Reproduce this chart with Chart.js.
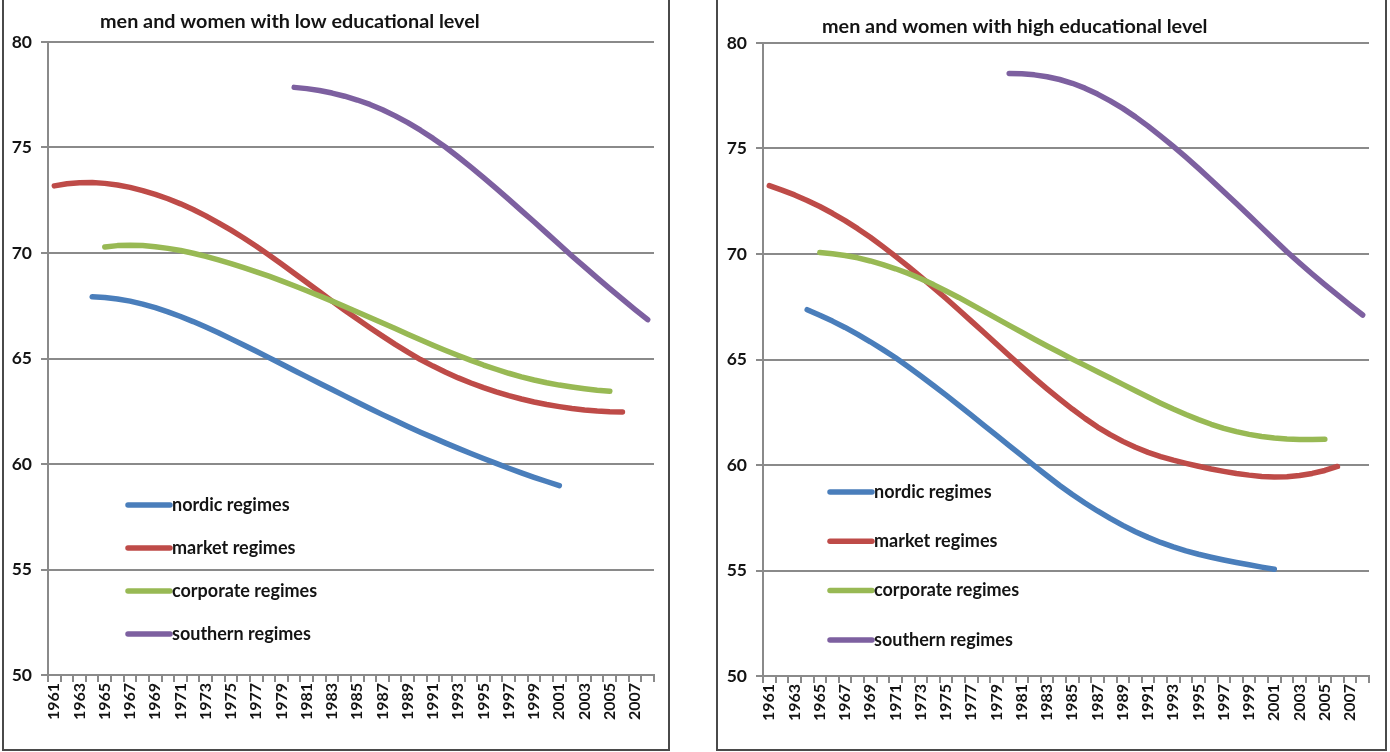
<!DOCTYPE html>
<html>
<head>
<meta charset="utf-8">
<script src="https://cdn.jsdelivr.net/npm/chart.js@4.4.1/dist/chart.umd.min.js"></script>
<style>
  html, body { margin: 0; padding: 0; background: #ffffff; width: 1390px; height: 752px; overflow: hidden; }
  .panel { position: absolute; border: 2px solid #4a4a4a; box-sizing: border-box; }
  #p1 { left: 2px; top: -3px; width: 668px; height: 754px; }
  #p2 { left: 716px; top: -3px; width: 671px; height: 754px; }
  canvas { position: absolute; top: 0; }
</style>
</head>
<body>
<div class="panel" id="p1"></div>
<div class="panel" id="p2"></div>
<canvas id="lowChart" width="664" height="750" style="left:4px"></canvas>
<canvas id="highChart" width="666" height="750" style="left:718px"></canvas>
<script>
// Years on the category axis
const years = [1961, 1962, 1963, 1964, 1965, 1966, 1967, 1968, 1969, 1970,
               1971, 1972, 1973, 1974, 1975, 1976, 1977, 1978, 1979, 1980,
               1981, 1982, 1983, 1984, 1985, 1986, 1987, 1988, 1989, 1990,
               1991, 1992, 1993, 1994, 1995, 1996, 1997, 1998, 1999, 2000,
               2001, 2002, 2003, 2004, 2005, 2006, 2007, 2008];
const yTicks = [50, 55, 60, 65, 70, 75, 80];
const seriesNames = ['nordic regimes', 'market regimes', 'corporate regimes', 'southern regimes'];
const seriesColors = ['#4a7ebb', '#be4b48', '#98b954', '#7d60a0'];

// Low educational level (first year of each trend, then yearly values)
const lowNordicFrom = 1964;
const lowNordic = [67.93, 67.89, 67.82, 67.72, 67.58, 67.41, 67.21, 66.99, 66.75, 66.49,
                   66.22, 65.93, 65.64, 65.34, 65.04, 64.74, 64.43, 64.13, 63.83, 63.53,
                   63.23, 62.93, 62.63, 62.34, 62.06, 61.78, 61.51, 61.25, 60.99, 60.74,
                   60.50, 60.26, 60.03, 59.80, 59.58, 59.37, 59.17, 58.97];
const lowMarketFrom = 1961;
const lowMarket = [73.18, 73.28, 73.33, 73.34, 73.30, 73.22, 73.11, 72.96, 72.78, 72.57,
                   72.33, 72.06, 71.76, 71.43, 71.08, 70.71, 70.32, 69.91, 69.48, 69.04,
                   68.60, 68.16, 67.72, 67.29, 66.87, 66.46, 66.06, 65.67, 65.30, 64.95,
                   64.64, 64.35, 64.08, 63.84, 63.62, 63.42, 63.24, 63.08, 62.94, 62.82,
                   62.72, 62.63, 62.56, 62.51, 62.48, 62.47];
const lowCorporateFrom = 1965;
const lowCorporate = [70.28, 70.35, 70.37, 70.35, 70.30, 70.22, 70.12, 69.99, 69.84, 69.67,
                      69.50, 69.31, 69.11, 68.90, 68.68, 68.45, 68.21, 67.97, 67.72, 67.46,
                      67.20, 66.94, 66.68, 66.42, 66.15, 65.89, 65.63, 65.38, 65.14, 64.91,
                      64.69, 64.49, 64.30, 64.13, 63.98, 63.85, 63.74, 63.65, 63.57, 63.50,
                      63.45];
const lowSouthernFrom = 1980;
const lowSouthern = [77.85, 77.79, 77.70, 77.58, 77.43, 77.25, 77.04, 76.79, 76.50, 76.18,
                     75.82, 75.43, 75.01, 74.55, 74.07, 73.57, 73.06, 72.54, 72.01, 71.48,
                     70.94, 70.40, 69.86, 69.34, 68.82, 68.31, 67.81, 67.32, 66.84];

// High educational level
const highNordicFrom = 1964;
const highNordic = [67.36, 67.10, 66.82, 66.52, 66.19, 65.84, 65.47, 65.08, 64.66, 64.22,
                    63.77, 63.31, 62.84, 62.36, 61.88, 61.40, 60.92, 60.44, 59.96, 59.49,
                    59.03, 58.60, 58.20, 57.82, 57.47, 57.14, 56.84, 56.57, 56.33, 56.12,
                    55.93, 55.77, 55.63, 55.50, 55.38, 55.27, 55.16, 55.06];
const highMarketFrom = 1961;
const highMarket = [73.24, 73.03, 72.80, 72.54, 72.25, 71.93, 71.58, 71.20, 70.79, 70.35,
                    69.89, 69.41, 68.92, 68.41, 67.89, 67.36, 66.82, 66.28, 65.73, 65.19,
                    64.65, 64.12, 63.61, 63.12, 62.65, 62.21, 61.80, 61.44, 61.12, 60.84,
                    60.60, 60.40, 60.23, 60.08, 59.94, 59.81, 59.70, 59.60, 59.52, 59.46,
                    59.43, 59.44, 59.50, 59.60, 59.74, 59.93];
const highCorporateFrom = 1965;
const highCorporate = [70.07, 70.01, 69.93, 69.82, 69.67, 69.50, 69.30, 69.08, 68.83, 68.55,
                       68.25, 67.94, 67.61, 67.28, 66.95, 66.62, 66.29, 65.96, 65.64, 65.33,
                       65.02, 64.72, 64.42, 64.12, 63.82, 63.52, 63.22, 62.93, 62.65, 62.39,
                       62.15, 61.93, 61.74, 61.58, 61.45, 61.35, 61.28, 61.23, 61.21, 61.21,
                       61.22];
const highSouthernFrom = 1980;
const highSouthern = [78.56, 78.54, 78.49, 78.40, 78.27, 78.09, 77.86, 77.58, 77.26, 76.90,
                      76.50, 76.06, 75.59, 75.10, 74.59, 74.06, 73.51, 72.95, 72.39, 71.82,
                      71.25, 70.68, 70.11, 69.57, 69.05, 68.55, 68.06, 67.58, 67.11];

// Place a trend that starts in a given year onto the full year axis
function alignToYears(from, values) {
  return years.map(y => {
    const i = y - from;
    return (i >= 0 && i < values.length) ? values[i] : null;
  });
}

const TEXT = '#141414';
const GRID = '#8a8a8a';
const FONT = 'Lato, "Open Sans", "DejaVu Sans", sans-serif';

// Legend stacked inside the plot area
const innerLegend = {
  id: 'innerLegend',
  afterDatasetsDraw(chart, args, o) {
    const ctx = chart.ctx;
    ctx.save();
    chart.data.datasets.forEach((ds, i) => {
      const y = o.top + i * o.gap;
      ctx.strokeStyle = ds.borderColor;
      ctx.lineWidth = 5.5;
      ctx.lineCap = 'round';
      ctx.beginPath();
      ctx.moveTo(o.x, y);
      ctx.lineTo(o.x + o.len, y);
      ctx.stroke();
      ctx.fillStyle = TEXT;
      ctx.font = o.font;
      ctx.textBaseline = 'middle';
      ctx.textAlign = 'left';
      ctx.fillText(ds.label, o.x + o.len + 2, y);
    });
    ctx.restore();
  }
};

// Panel heading drawn at a fixed spot above the plot
const panelHeading = {
  id: 'panelHeading',
  afterDraw(chart, args, o) {
    const ctx = chart.ctx;
    ctx.save();
    ctx.fillStyle = TEXT;
    ctx.font = o.font;
    ctx.textBaseline = 'middle';
    ctx.textAlign = 'left';
    ctx.fillText(o.text, o.x, o.y);
    ctx.restore();
  }
};

function buildChart(id, series, heading, geo) {
  const datasets = series.map((s, i) => ({
    label: seriesNames[i],
    data: alignToYears(s.from, s.values),
    borderColor: seriesColors[i],
    backgroundColor: seriesColors[i],
    borderWidth: 5.5,
    borderCapStyle: 'round',
    borderJoinStyle: 'round',
    pointRadius: 0,
    tension: 0,
    fill: false,
    spanGaps: false,
    order: series.length - i
  }));

  return new Chart(document.getElementById(id), {
    type: 'line',
    data: { labels: years.map(String), datasets },
    options: {
      responsive: false,
      animation: false,
      devicePixelRatio: 1,
      layout: { padding: { left: 0, right: geo.padRight, top: geo.padTop, bottom: 0 } },
      plugins: {
        legend: { display: false },
        tooltip: { enabled: false },
        title: { display: false },
        innerLegend: geo.legend,
        panelHeading: { text: heading, x: geo.headX, y: geo.headY, font: 'bold 19.8px ' + FONT }
      },
      scales: {
        x: {
          type: 'category',
          offset: true,
          afterFit(scale) { scale.height = geo.xAxisHeight; },
          grid: {
            offset: true,
            drawOnChartArea: false,
            drawTicks: true,
            tickLength: 7,
            color: GRID,
            lineWidth: 2
          },
          border: { display: true, color: GRID, width: 2 },
          ticks: {
            autoSkip: false,
            maxRotation: 90,
            minRotation: 90,
            padding: 1,
            color: TEXT,
            font: { family: FONT, size: 16, weight: 'bold' },
            callback(value, index) { return index % 2 === 0 ? years[index] : ''; }
          }
        },
        y: {
          min: 50,
          max: 80,
          afterFit(scale) { scale.width = geo.yAxisWidth; },
          afterBuildTicks(scale) { scale.ticks = yTicks.map(v => ({ value: v })); },
          grid: {
            color: GRID,
            lineWidth: 2,
            drawTicks: true,
            tickLength: 7
          },
          border: { display: true, color: GRID, width: 2 },
          ticks: {
            padding: 9,
            color: TEXT,
            font: { family: FONT, size: 17.5, weight: 'bold' }
          }
        }
      }
    },
    plugins: [innerLegend, panelHeading]
  });
}

buildChart('lowChart', [
  { from: lowNordicFrom, values: lowNordic },
  { from: lowMarketFrom, values: lowMarket },
  { from: lowCorporateFrom, values: lowCorporate },
  { from: lowSouthernFrom, values: lowSouthern }
], 'men and women with low educational level', {
  padRight: 11, padTop: 42, xAxisHeight: 75, yAxisWidth: 44,
  headX: 96, headY: 22,
  legend: { x: 124, len: 42, top: 505, gap: 43, font: 'bold 18px ' + FONT }
});

buildChart('highChart', [
  { from: highNordicFrom, values: highNordic },
  { from: highMarketFrom, values: highMarket },
  { from: highCorporateFrom, values: highCorporate },
  { from: highSouthernFrom, values: highSouthern }
], 'men and women with high educational level', {
  padRight: 15, padTop: 43, xAxisHeight: 74, yAxisWidth: 45,
  headX: 104, headY: 27,
  legend: { x: 112, len: 42, top: 492, gap: 49.3, font: 'bold 18px ' + FONT }
});
</script>
</body>
</html>
